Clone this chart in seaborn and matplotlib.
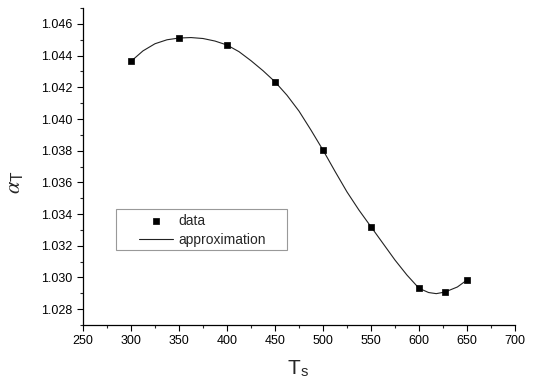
import matplotlib
matplotlib.use("Agg")
import matplotlib.pyplot as plt
import seaborn as sns
import pandas as pd
from matplotlib.patches import Rectangle
from matplotlib.ticker import MultipleLocator, FormatStrFormatter

# measured points
data_T = [300, 350, 400, 450, 500, 550, 600, 627, 650]
data_alpha = [1.04364, 1.04511, 1.04467, 1.04235, 1.03804, 1.03320, 1.02932, 1.02910, 1.02984]

# approximation curve
approx_T = [300, 312.5, 325, 337.5, 350, 362.5, 375, 387.5, 400, 412.5, 425, 437.5,
            450, 462.5, 475, 487.5, 500, 512.5, 525, 537.5, 550, 562.5, 575, 587.5,
            600, 610, 618, 627, 640, 650]
approx_alpha = [1.04364, 1.04430, 1.04475, 1.04500, 1.04511, 1.04514, 1.04508, 1.04492,
                1.04467, 1.04425, 1.04368, 1.04305, 1.04235, 1.04150, 1.04050, 1.03930,
                1.03804, 1.03670, 1.03540, 1.03425, 1.03320, 1.03215, 1.03110, 1.03015,
                1.02932, 1.02905, 1.02898, 1.02908, 1.02940, 1.02984]

df_data = pd.DataFrame({"T": data_T, "alpha": data_alpha})
df_fit = pd.DataFrame({"T": approx_T, "alpha": approx_alpha})

sns.set_style("ticks")
plt.rcParams["font.family"] = ["Liberation Sans", "DejaVu Sans"]
plt.rcParams["mathtext.fontset"] = "stix"

fig = plt.figure(figsize=(5.34, 3.85), dpi=100)
ax = fig.add_axes([0.1554, 0.1558, 0.809, 0.8232])

sns.scatterplot(data=df_data, x="T", y="alpha", ax=ax, marker="s", s=22,
                color="black", edgecolor="black", linewidth=0.5, label="data", zorder=3)
sns.lineplot(data=df_fit, x="T", y="alpha", ax=ax, color="#222222", linewidth=0.8,
             label="approximation", zorder=2)

ax.set_xlim(250, 700)
ax.set_ylim(1.027, 1.047)
ax.xaxis.set_major_locator(MultipleLocator(50))
ax.xaxis.set_minor_locator(MultipleLocator(25))
ax.yaxis.set_major_locator(MultipleLocator(0.002))
ax.yaxis.set_minor_locator(MultipleLocator(0.001))
ax.yaxis.set_major_formatter(FormatStrFormatter("%.3f"))
ax.tick_params(which="major", length=4.5, width=0.8, labelsize=9, colors="black", pad=3)
ax.tick_params(which="minor", length=2.5, width=0.8)

for s in ["top", "right"]:
    ax.spines[s].set_visible(False)
for s in ["left", "bottom"]:
    ax.spines[s].set_linewidth(0.9)
    ax.spines[s].set_color("black")

ax.set_xlabel("T$_\\mathregular{s}$", fontsize=15)
ax.set_ylabel("$\\alpha_\\mathregular{T}$", fontsize=16)
ax.xaxis.set_label_coords(0.498, -0.105)
ax.yaxis.set_label_coords(-0.135, 0.45)

# legend box drawn separately so its padding matches the original
ax.add_patch(Rectangle((0.0764, 0.2366), 0.3958, 0.1294, transform=ax.transAxes,
                       facecolor="white", edgecolor="#999999", linewidth=0.8, zorder=4))
leg = ax.legend(loc="upper left", bbox_to_anchor=(0.1296, 0.350), fontsize=10,
                frameon=False, handlelength=2.45, handletextpad=0.4, borderpad=0,
                labelspacing=0.35, borderaxespad=0)
leg.set_zorder(5)

fig.savefig("out.png", dpi=100)
